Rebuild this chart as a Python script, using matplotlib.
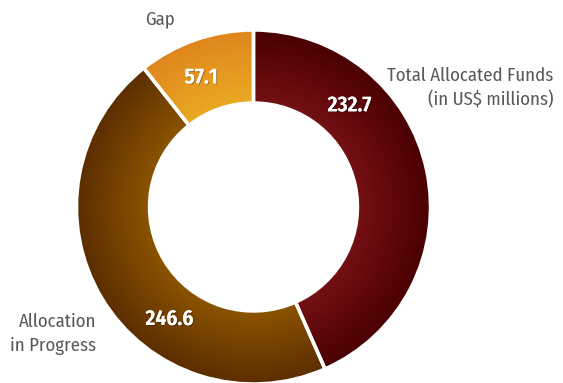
import numpy as np
import matplotlib
matplotlib.use('Agg')
import matplotlib.pyplot as plt
import matplotlib.patheffects as pe
from matplotlib.colors import LinearSegmentedColormap

#
#--- fund data (in US$ millions)
#
values      = [232.7, 246.6, 57.1]
value_text  = ['232.7', '246.6', '57.1']
names       = ['Total Allocated Funds\n(in US$ millions)', 'Allocation\nin Progress', 'Gap']
#
#--- ring shading: colour at inner edge / outer edge
#
inner_cols  = ['#741014', '#8b5400', '#eaaa22']
outer_cols  = ['#4a0002', '#5c2e00', '#df861e']

cond = ['Fira Sans Condensed', 'Roboto Condensed', 'Asap Condensed', 'DejaVu Sans']
plt.rcParams['font.family'] = cond

fig = plt.figure(figsize=(5.63, 3.83), dpi=100)
ax  = fig.add_axes([0, 0, 1, 1])

cx, cy  = 253.5, 176.0
r_out   = 177.0
r_in    = 104.0

def set_frame(ax):
    ax.set_xlim(0, 563)
    ax.set_ylim(0, 383)
    ax.set_aspect('equal')
    ax.axis('off')

wedges, _ = ax.pie(values, startangle=90, counterclock=False, center=(cx, cy),
                   radius=r_out, frame=True,
                   wedgeprops=dict(width=r_out - r_in, edgecolor='none', facecolor='none'))
set_frame(ax)
#
#--- radial gradient fill for each wedge
#
xx, yy = np.meshgrid(np.linspace(cx - r_out, cx + r_out, 400),
                     np.linspace(cy - r_out, cy + r_out, 400))
rr = np.hypot(xx - cx, yy - cy)
frac = np.clip((rr - r_in) / (r_out - r_in), 0, 1)

for w, c1, c2 in zip(wedges, inner_cols, outer_cols):
    cmap = LinearSegmentedColormap.from_list('g', [c1, c2])
    im = ax.imshow(frac, cmap=cmap, vmin=0, vmax=1, origin='lower',
                   extent=(cx - r_out, cx + r_out, cy - r_out, cy + r_out),
                   interpolation='bilinear', zorder=1)
    im.set_clip_path(w)
#
#--- white separators between wedges
#
ax.pie(values, startangle=90, counterclock=False, center=(cx, cy),
       radius=r_out, frame=True,
       wedgeprops=dict(width=r_out - r_in, edgecolor='white', linewidth=2.5,
                       facecolor='none', zorder=3))
set_frame(ax)
#
#--- value labels inside the ring
#
val_ang = [46.7, -127.0, 112.0]
val_rad = 140.0
for txt, a in zip(value_text, val_ang):
    x = cx + val_rad * np.cos(np.radians(a))
    y = cy + val_rad * np.sin(np.radians(a))
    ax.text(x, y, txt, color='white', fontsize=15.5, fontweight='semibold',
            ha='center', va='center', zorder=5,
            path_effects=[pe.withSimplePatchShadow(offset=(0.7, -0.7),
                                                   shadow_rgbFace='black', alpha=0.3),
                          pe.Normal()])
#
#--- category labels
#
gray = '#595959'
ax.text(553, 295, names[0], ha='right', va='center', fontsize=13.5,
        color=gray, linespacing=1.45)
ax.text(96, 49, names[1], ha='right', va='center', fontsize=13.5,
        color=gray, linespacing=1.45)
ax.text(160, 364, names[2], ha='center', va='center', fontsize=13.5, color=gray)

plt.savefig('out.png', dpi=100)
